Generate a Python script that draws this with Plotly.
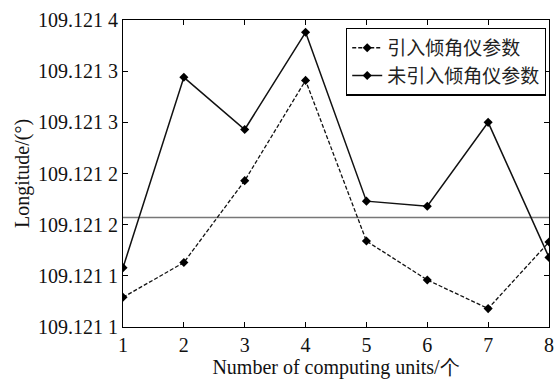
import plotly.graph_objects as go

# Computing units on the x axis
units = [1, 2, 3, 4, 5, 6, 7, 8]

# Longitude estimates (degrees)
with_tilt = [109.121129, 109.121163, 109.121243, 109.121341,
             109.121184, 109.121146, 109.121118, 109.121183]
without_tilt = [109.121158, 109.121344, 109.121293, 109.121388,
                109.121223, 109.121218, 109.121300, 109.121168]
reference_lon = 109.121207

# Y tick positions and their printed labels
y_tickvals = [109.12110, 109.12115, 109.12120, 109.12125,
              109.12130, 109.12135, 109.12140]
y_ticktext = ["109.121 1", "109.121 1", "109.121 2", "109.121 2",
              "109.121 3", "109.121 3", "109.121 4"]

series_names = ["引入倾角仪参数", "未引入倾角仪参数"]

serif = "Liberation Serif, Times New Roman, serif"

fig = go.Figure()

fig.add_trace(go.Scatter(
    x=[units[0], units[-1]], y=[reference_lon, reference_lon],
    mode="lines", line=dict(color="#777777", width=1.3),
    showlegend=False, hoverinfo="skip"))

fig.add_trace(go.Scatter(
    x=units, y=with_tilt, name=series_names[0], mode="lines+markers",
    line=dict(color="#111111", width=1.3, dash="4px,2px"),
    marker=dict(symbol="diamond", size=7, color="black")))

fig.add_trace(go.Scatter(
    x=units, y=without_tilt, name=series_names[1], mode="lines+markers",
    line=dict(color="#111111", width=1.5),
    marker=dict(symbol="diamond", size=7, color="black")))

axis_common = dict(
    showline=True, linecolor="black", linewidth=1.2, mirror="allticks",
    ticks="inside", ticklen=5, tickcolor="black", tickwidth=1,
    showgrid=False, zeroline=False,
    tickfont=dict(family=serif, size=20, color="#111"))

fig.update_xaxes(range=[1, 8], tickvals=units, ticktext=[str(u) for u in units],
                 title=dict(text="Number of computing units/个", standoff=0,
                            font=dict(family=serif, size=20, color="#111")),
                 **axis_common)
fig.update_yaxes(range=[y_tickvals[0], y_tickvals[-1]], tickvals=y_tickvals,
                 ticktext=y_ticktext,
                 title=dict(text="Longitude/(°)", standoff=2,
                            font=dict(family=serif, size=20, color="#111")),
                 **axis_common)

fig.update_layout(
    width=559, height=379,
    margin=dict(l=123, r=5, t=20, b=52),
    plot_bgcolor="white", paper_bgcolor="white",
    legend=dict(x=0.993, y=0.975, xanchor="right", yanchor="top",
                bordercolor="black", borderwidth=1.2, bgcolor="white",
                font=dict(family="Noto Sans CJK SC, sans-serif", size=19, color="#222"),
                tracegroupgap=0, itemwidth=30),
    showlegend=True,
)

fig.write_html("out.html")
